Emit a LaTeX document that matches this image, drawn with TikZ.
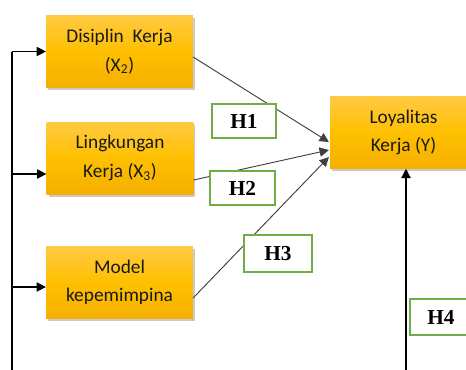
\documentclass[tikz,border=0pt]{standalone}
\usepackage{fontspec}
\setmainfont{Carlito}
\newfontfamily\hypfont{Liberation Serif}
\usetikzlibrary{arrows.meta, calc, shadows}
\definecolor{boxtop}{HTML}{FFCA42}
\definecolor{boxmid}{HTML}{FFC000}
\definecolor{boxbot}{HTML}{F4B000}
\definecolor{hypgreen}{HTML}{70AD47}

\begin{document}
\begin{tikzpicture}[
      x=0.75pt, y=-0.75pt,
      var_box/.style={rectangle, minimum width=110pt, minimum height=54pt, inner sep=0pt, align=center,
          top color=boxtop, bottom color=boxbot, middle color=boxmid,
          drop shadow={shadow xshift=1.5pt, shadow yshift=-2pt, opacity=0.35, fill=black!60},
          font=\fontsize{14.5}{21.5}\selectfont, text=black!90},
      hyp_box/.style={rectangle, draw=hypgreen, line width=1.4pt, fill=white, inner sep=0pt,
          minimum width=48.5pt, minimum height=25.5pt, font=\hypfont\bfseries\fontsize{16}{18}\selectfont},
      arrow/.style={-{Triangle[length=7pt, width=7pt]}, line width=0.9pt},
      link/.style={-{Triangle[length=7pt, width=7pt]}, line width=0.7pt, draw=black!75}
  ]
      \clip (0,0) rectangle (466,369);

      % Variables
      \node[var_box] (x2) at (119.5,51.5) {Disiplin\ \ Kerja\\(X\textsubscript{2})};
      \node[var_box] (x3) at (120,158) {Lingkungan\\Kerja (X\textsubscript{3})};
      \node[var_box] (x4) at (119.5,282.5) {Model\\kepemimpina};
      \node[var_box] (y) at (403.5,132.5) {Loyalitas\\Kerja (Y)};

      % Left bus
      \coordinate (bus) at (12,380);
      \draw[line width=0.9pt] (bus) -- (bus |- x2.west);
      \draw[arrow] (bus |- x2.west) -- (x2.west);
      \draw[arrow] ($(bus |- x3.west)+(0,16)$) -- ($(x3.west)+(0,16)$);
      \draw[arrow] ($(bus |- x4.west)+(0,4.5)$) -- ($(x4.west)+(0,4.5)$);

      % Paths to Y
      \draw[link] ($(x2.east)+(0,5.5)$) -- ($(y.west)+(-1,9.5)$);
      \draw[link] ($(x3.east)+(0,22)$) -- ($(y.west)+(-1,17.5)$);
      \draw[link] ($(x4.east)+(0,15.5)$) -- ($(y.west)+(-1,24.5)$);
      \coordinate (h4foot) at (406,380);
      \draw[arrow] (h4foot) -- (h4foot |- y.south);

      % Hypotheses
      \node[hyp_box] (h1) at (244,121) {H1};
      \node[hyp_box] (h2) at (242.5,188) {H2};
      \node[hyp_box, minimum width=51pt, minimum height=27.5pt] (h3) at (278,253.5) {H3};
      \node[hyp_box, minimum width=46.5pt, minimum height=27pt] (h4) at (441,317) {H4};
  \end{tikzpicture}
\end{document}
